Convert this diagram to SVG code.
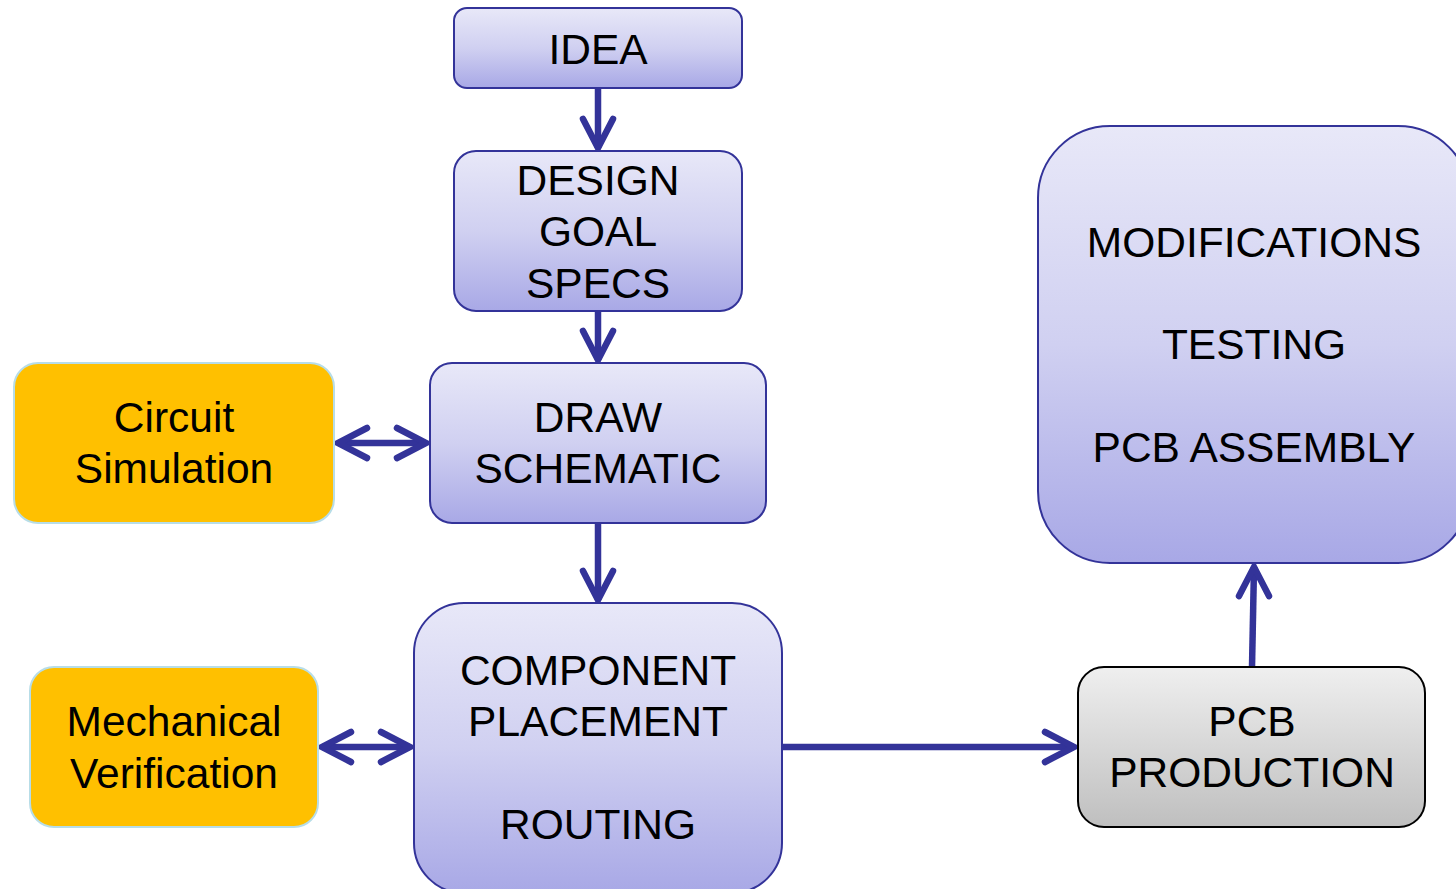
<svg xmlns="http://www.w3.org/2000/svg" width="1456" height="889" viewBox="0 0 1456 889">
<defs>
<linearGradient id="gBlue" x1="0" y1="0" x2="0" y2="1">
<stop offset="0" stop-color="#e8e8f8"/>
<stop offset="0.5" stop-color="#d0d0f1"/>
<stop offset="1" stop-color="#a8a8e6"/>
</linearGradient>
<linearGradient id="gGray" x1="0" y1="0" x2="0" y2="1">
<stop offset="0" stop-color="#efefef"/>
<stop offset="1" stop-color="#bfbfbf"/>
</linearGradient>
</defs>
<style>
.blue{fill:url(#gBlue);stroke:#333399;stroke-width:2}
.orange{fill:#ffc000;stroke:#b7dde8;stroke-width:2}
.gray{fill:url(#gGray);stroke:#000;stroke-width:2}
text{font-family:"Liberation Sans",Arial,sans-serif;font-size:42.5px;fill:#000;text-anchor:middle}
.ln{stroke:#333399;stroke-width:6.5;fill:none}
.hd{stroke:#333399;stroke-width:6.5;fill:none;stroke-linecap:round;stroke-linejoin:miter}
</style>
<g id="connectors">
<line class="ln" x1="598" y1="88" x2="598" y2="148"/>
<polyline class="hd" points="583,119 598,148 613,119"/>
<line class="ln" x1="598" y1="311" x2="598" y2="360"/>
<polyline class="hd" points="583,331 598,360 613,331"/>
<line class="ln" x1="598" y1="523" x2="598" y2="600"/>
<polyline class="hd" points="583,571 598,600 613,571"/>
<line class="ln" x1="338" y1="443" x2="426" y2="443"/>
<polyline class="hd" points="367,428 338,443 367,458"/>
<polyline class="hd" points="397,428 426,443 397,458"/>
<line class="ln" x1="322" y1="747" x2="410" y2="747"/>
<polyline class="hd" points="351,732 322,747 351,762"/>
<polyline class="hd" points="381,732 410,747 381,762"/>
<line class="ln" x1="782" y1="747" x2="1074" y2="747"/>
<polyline class="hd" points="1045,732 1074,747 1045,762"/>
<line class="ln" x1="1252" y1="667" x2="1254" y2="567"/>
<polyline class="hd" points="1239,596 1254,567 1269,596"/>
</g>
<g id="idea">
<rect class="blue" x="454" y="8" width="288" height="80" rx="13"/>
<text x="598" y="64">IDEA</text>
</g>
<g id="design">
<rect class="blue" x="454" y="151" width="288" height="160" rx="22"/>
<text x="598" y="195">DESIGN</text>
<text x="598" y="246">GOAL</text>
<text x="598" y="298">SPECS</text>
</g>
<g id="draw">
<rect class="blue" x="430" y="363" width="336" height="160" rx="22"/>
<text x="598" y="432">DRAW</text>
<text x="598" y="483">SCHEMATIC</text>
</g>
<g id="circuit">
<rect class="orange" x="14" y="363" width="320" height="160" rx="24"/>
<text x="174" y="432">Circuit</text>
<text x="174" y="483">Simulation</text>
</g>
<g id="component">
<rect class="blue" x="414" y="603" width="368" height="290" rx="50"/>
<text x="598" y="685">COMPONENT</text>
<text x="598" y="736">PLACEMENT</text>
<text x="598" y="839">ROUTING</text>
</g>
<g id="mechanical">
<rect class="orange" x="30" y="667" width="288" height="160" rx="24"/>
<text x="174" y="736">Mechanical</text>
<text x="174" y="788">Verification</text>
</g>
<g id="pcb">
<rect class="gray" x="1078" y="667" width="347" height="160" rx="26"/>
<text x="1252" y="736">PCB</text>
<text x="1252" y="787">PRODUCTION</text>
</g>
<g id="modifications">
<rect class="blue" x="1038" y="126" width="432" height="437" rx="72"/>
<text x="1254" y="257">MODIFICATIONS</text>
<text x="1254" y="359">TESTING</text>
<text x="1254" y="462">PCB ASSEMBLY</text>
</g>
</svg>
